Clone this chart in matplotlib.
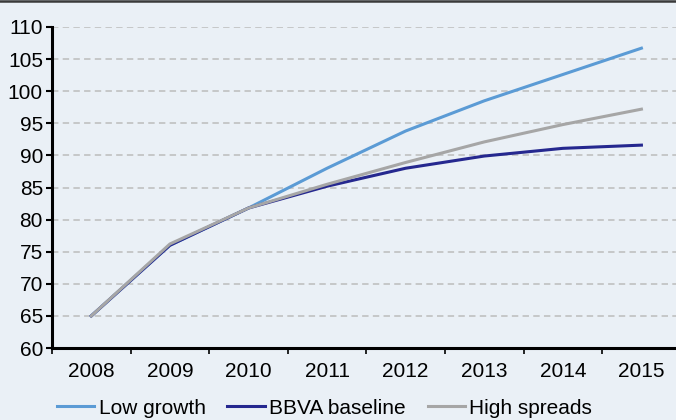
import matplotlib
matplotlib.use("Agg")
import matplotlib.pyplot as plt
from matplotlib.lines import Line2D

plt.rcParams['font.family'] = ['Liberation Sans', 'DejaVu Sans']

years = ["2008", "2009", "2010", "2011", "2012", "2013", "2014", "2015"]
low_growth = [65.0, 76.0, 81.8, 88.0, 93.8, 98.5, 102.6, 106.7]
bbva_baseline = [65.0, 76.0, 81.8, 85.2, 88.0, 89.9, 91.1, 91.6]
high_spreads = [65.0, 76.2, 81.8, 85.5, 88.9, 92.1, 94.8, 97.2]
y_ticks = [60, 65, 70, 75, 80, 85, 90, 95, 100, 105, 110]

bg = "#eaf0f6"
fig = plt.figure(figsize=(6.76, 4.20), dpi=100, facecolor=bg)
ax = fig.add_axes([52 / 676, 1 - 348 / 420, 1 - 52 / 676, (348 - 27) / 420])
ax.set_facecolor(bg)

x = list(range(len(years)))
ax.plot(x, low_growth, color="#5b9bd5", lw=2.2, label="Low growth", zorder=3)
ax.plot(x, bbva_baseline, color="#25288f", lw=2.2, label="BBVA baseline", zorder=3)
ax.plot(x, high_spreads, color="#a6a6a6", lw=2.2, label="High spreads", zorder=3)

ax.set_ylim(60, 110)
ax.set_xlim(-0.5, 7.44)
ax.set_yticks(y_ticks)
ax.set_xticks(x)
ax.set_xticklabels(years)
ax.set_xticks([i - 0.5 for i in range(len(years))], minor=True)

ax.tick_params(axis="y", labelsize=15, length=4, width=1.5, pad=2.5, direction="out")
ax.tick_params(axis="x", which="major", labelsize=15, length=0, pad=10)
ax.tick_params(axis="x", which="minor", length=4, width=1.2, direction="out")

for s in ("top", "right"):
    ax.spines[s].set_visible(False)
for s in ("left", "bottom"):
    ax.spines[s].set_linewidth(2.2)
    ax.spines[s].set_color("black")

ax.yaxis.grid(True, color="#bcbcbc", lw=1.1, dashes=(4.2, 2.8))
ax.set_axisbelow(True)

fig.legend(loc="center", bbox_to_anchor=(0.48, 0.028), ncol=3, frameon=False,
           fontsize=15, handlelength=1.8, handletextpad=0.2, columnspacing=1.05,
           borderpad=0.2)

fig.add_artist(Line2D([0, 1], [0.998, 0.998], transform=fig.transFigure,
                      color="#3a3a3a", lw=1.8))

fig.savefig("out.png", dpi=100, facecolor=bg)
